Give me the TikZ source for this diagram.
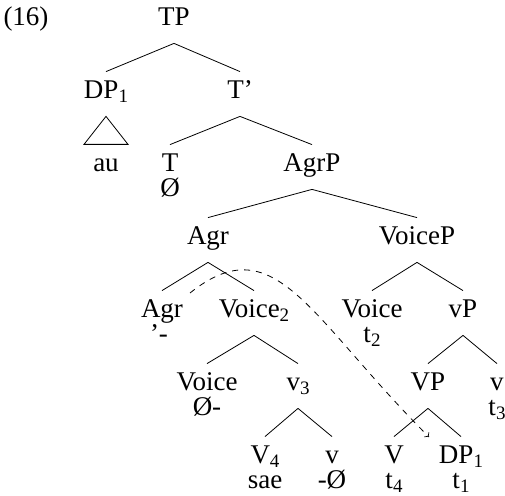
\documentclass[tikz,border=0pt]{standalone}
\usepackage{fontspec}
\setmainfont{Liberation Serif}
\newcommand{\lsub}[1]{\raisebox{-2pt}{\fontsize{9.5}{9.5}\selectfont #1}}

\begin{document}
\begin{tikzpicture}[x=0.5pt,y=-0.5pt]
  \tikzstyle{every node}=[inner sep=0pt,anchor=base,font=\fontsize{13.5}{13.5}\selectfont]
  \tikzstyle{cat}=[text height=13.5pt,text depth=8.5pt]
  \tikzstyle{leaf}=[text height=13.5pt]
  \useasboundingbox (0,0) rectangle (505,496);
  \node (num)            at ( 26, 26)    {(16)};
  \node[cat] (tp)        at (174, 26)    {TP};
  \node[cat] (dp_top)    at (106, 99)    {DP\lsub{1}};
  \node[cat] (tbar)      at (240, 99)    {T’};
  \node (au)             at (106,172)    {au};
  \node[leaf] (t)        at (170,172)    {T};
  \node (t_null)         at (170,196.5)  {Ø};
  \node[cat] (agrp)      at (312,172)    {AgrP};
  \node[cat] (agr)       at (208,245)    {Agr};
  \node[cat] (voicep)    at (417,245)    {VoiceP};
  \node[leaf] (agr_head) at (162,318)    {Agr};
  \node (agr_aff)        at (159,342.5)  {’-};
  \node[cat] (voice_two) at (254,318)    {Voice\lsub{2}};
  \node[leaf] (voice_trace) at (372,318) {Voice};
  \node (voice_t)        at (372,342.5)  {t\lsub{2}};
  \node[cat] (vp_little) at (463,318)    {vP};
  \node[leaf] (voice_null) at (207,391)  {Voice};
  \node (voice_aff)      at (207,415.5)  {Ø-};
  \node[cat] (v_three)   at (298,391)    {v\lsub{3}};
  \node[cat] (vp)        at (428,391)    {VP};
  \node[leaf] (v_trace)  at (497,391)    {v};
  \node (v_t)            at (497,415.5)  {t\lsub{3}};
  \node[leaf] (v_root)   at (265,464)    {V\lsub{4}};
  \node (sae)            at (265,489)    {sae};
  \node[leaf] (v_suf)    at (332,464)    {v};
  \node (v_suf_null)     at (332,489)    {-Ø};
  \node[leaf] (vtrace_b) at (394,464)    {V};
  \node (vtrace_t)       at (394,489)    {t\lsub{4}};
  \node[leaf] (dp_trace) at (461,464)    {DP\lsub{1}};
  \node (dp_t)           at (461,489)    {t\lsub{1}};
  \foreach \p/\c in {tp/dp_top,tp/tbar,tbar/t,tbar/agrp,agrp/agr,agrp/voicep,
                     agr/agr_head,agr/voice_two,voicep/voice_trace,voicep/vp_little,
                     voice_two/voice_null,voice_two/v_three,vp_little/vp,vp_little/v_trace,
                     v_three/v_root,v_three/v_suf,vp/vtrace_b,vp/dp_trace}{
    \draw (\p.south) -- (\c.north);
  }
% DP roof
  \draw (dp_top.south) -- +(-22,28) -- +(22,28) -- cycle;
% head movement
  \coordinate (move_from) at (190,293);
  \coordinate (move_to)   at (429,437);
  \draw[->,dashed] (move_from) .. controls (275,225) and (309,317) .. (move_to);
\end{tikzpicture}
\end{document}
